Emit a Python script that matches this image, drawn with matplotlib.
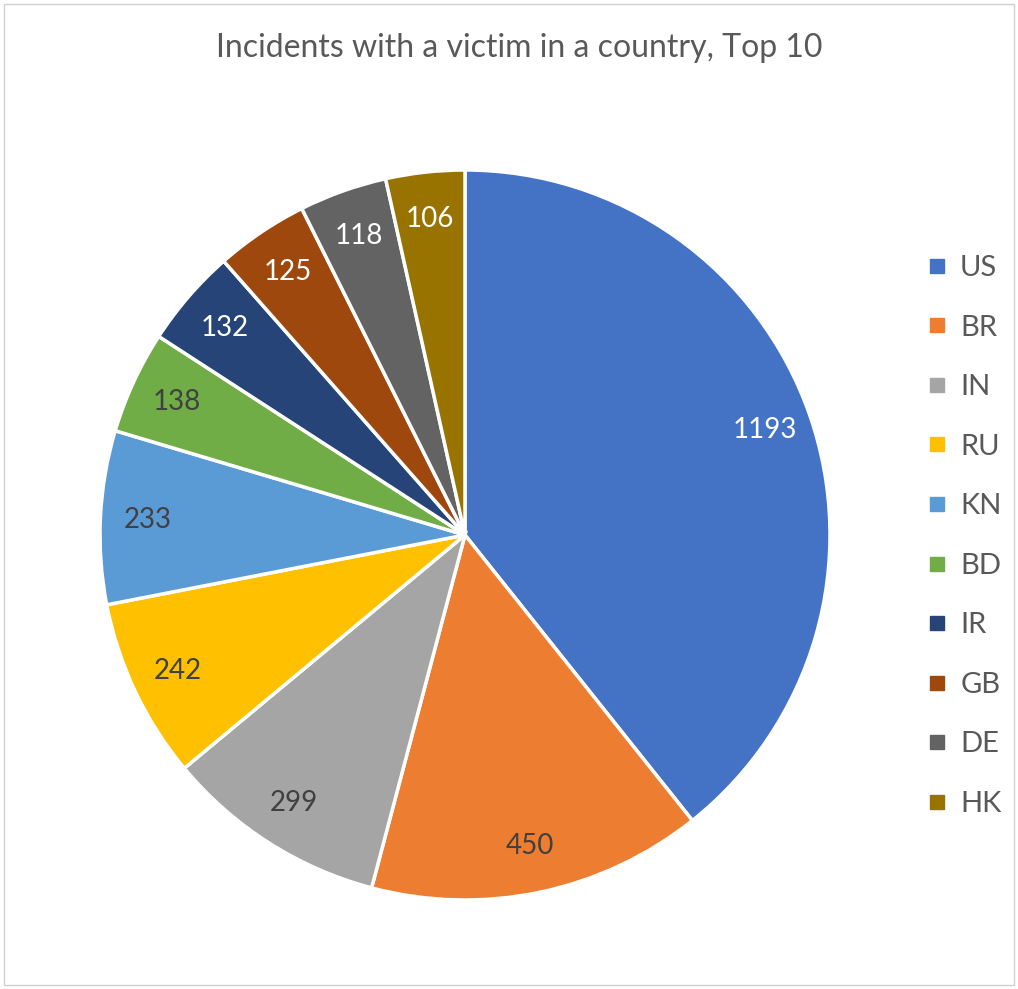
import matplotlib
matplotlib.use("Agg")
import matplotlib.pyplot as plt
from matplotlib.lines import Line2D
from matplotlib.patches import Rectangle

countries = ["US", "BR", "IN", "RU", "KN", "BD", "IR", "GB", "DE", "HK"]
incidents = [1193, 450, 299, 242, 233, 138, 132, 125, 118, 106]
colors = ["#4472C4", "#ED7D31", "#A5A5A5", "#FFC000", "#5B9BD5",
          "#70AD47", "#264478", "#9E480E", "#636363", "#997300"]
label_colors = ["white", "#404040", "#404040", "#404040", "#404040",
                "#404040", "white", "white", "white", "white"]

plt.rcParams['font.family'] = ['Lato', 'DejaVu Sans']

fig = plt.figure(figsize=(10.18, 9.89), dpi=100)
fig.patches.append(Rectangle((0.004, 0.004), 0.992, 0.992, transform=fig.transFigure,
                             fill=False, edgecolor="#d0d0d0", linewidth=1))

# pie centre ~ (465, 535) px, radius ~365 px
ax = fig.add_axes([100 / 1018, (989 - 535 - 365) / 989, 730 / 1018, 730 / 989])
wedges, texts = ax.pie(incidents, colors=colors, startangle=90, counterclock=False,
                       labels=[str(v) for v in incidents], labeldistance=0.87,
                       wedgeprops=dict(edgecolor="white", linewidth=2.5))
for t, c in zip(texts, label_colors):
    t.set_color(c)
    t.set_fontsize(20)
    t.set_ha("center")
    t.set_va("center")
ax.set_xlim(-1, 1)
ax.set_ylim(-1, 1)

fig.text(519 / 1018, 1 - 48 / 989, "Incidents with a victim in a country, Top 10",
         ha="center", va="center", fontsize=23, color="#595959")

handles = [Line2D([0], [0], marker="s", linestyle="none", markersize=10,
                  markerfacecolor=c, markeredgecolor=c, label=n)
           for n, c in zip(countries, colors)]
leg = fig.legend(handles=handles, loc="center left",
                 bbox_to_anchor=(912 / 1018, 1 - 536 / 989),
                 frameon=False, fontsize=21, labelspacing=1.15, handlelength=0.7,
                 handletextpad=0.45, borderpad=0)
for t in leg.get_texts():
    t.set_color("#595959")

fig.savefig("out.png", dpi=100)
